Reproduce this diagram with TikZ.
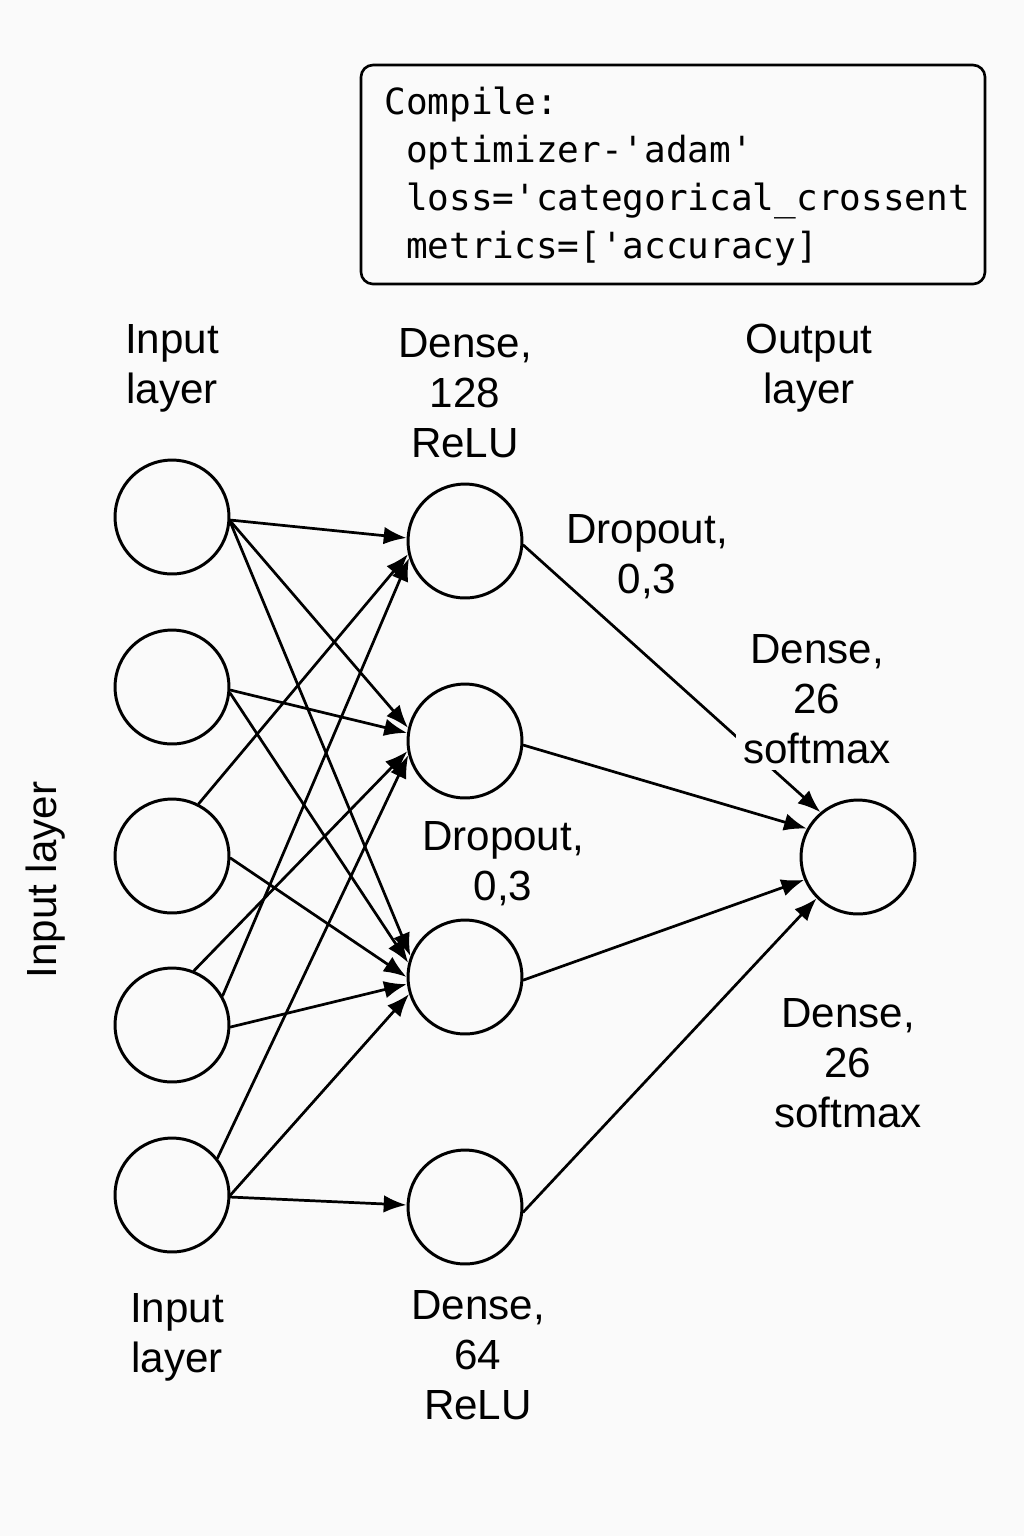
\documentclass[tikz,border=0pt]{standalone}
\usepackage{fontspec}
\setmainfont{Liberation Sans}
\newfontfamily\codefont{DejaVu Sans Mono}
\usetikzlibrary{arrows.meta}
\definecolor{bgcol}{RGB}{250,250,250}

\begin{document}
\begin{tikzpicture}[x=0.02cm,y=-0.02cm,line join=round,line cap=round,
  neuron/.style={draw,circle,line width=1.7pt,minimum size=2.28cm,inner sep=0pt},
  conn/.style={line width=1.55pt,-{Latex[length=13pt,width=10pt]}},
  lbl/.style={align=center,font=\fontsize{24}{28.3}\selectfont,inner sep=1pt}]
\fill[bgcol] (0,0) rectangle (1024,1536);
\useasboundingbox (0,0) rectangle (1024,1536);
% compile box
\draw[line width=1.5pt,rounded corners=0.24cm] (361,65) rectangle (985,284);
\node[anchor=north west,inner sep=0pt,align=left,font=\codefont\fontsize{20.5}{27.2}\selectfont] (compile) at (384,87)
  {Compile:\\\hphantom{C}optimizer-'adam'\\\hphantom{C}loss='categorical\_crossent\\\hphantom{C}metrics=['accuracy]};
% layers
\foreach \i/\y in {1/517,2/687,3/856,4/1025,5/1195}{\node[neuron] (in\i) at (172,\y) {};}
\foreach \i/\y in {1/541,2/741,3/977,4/1207}{\node[neuron] (hid\i) at (465,\y) {};}
\node[neuron] (out) at (858,857) {};
% connections (from anchor / to anchor)
\foreach \a/\s/\b/\e in {1/357/1/177,1/356/2/167,1/355/3/159,2/357/2/172,2/354/3/166,
  3/63/1/193,3/358/3/180,4/30/1/197,4/68/2/190,4/358/3/187,5/39/2/194,5/0/3/197,5/358/4/178}
  {\draw[conn] (in\a.\s) -- (hid\b.\e);}
\foreach \b/\s/\e in {1/356/130,2/356/151,3/357/203,4/355/225}{\draw[conn] (hid\b.\s) -- (out.\e);}
% labels
\node[lbl] (inlbl) at (172,368) {Input\\layer};
\node[lbl] (dense128) at (465,393) {Dense,\\128\\ReLU};
\node[lbl] (outlbl) at (809,368) {Output\\layer};
\node[lbl] (drop1) at (647,557) {Dropout,\\0,3};
\node[lbl,fill=bgcol,inner sep=4pt] (soft1) at (817,699) {Dense,\\26\\softmax};
\node[lbl] (drop2) at (503,864) {Dropout,\\0,3};
\node[lbl] (soft2) at (848,1063) {Dense,\\26\\softmax};
\node[lbl] (inlbl2) at (177,1337) {Input\\layer};
\node[lbl] (dense64) at (478,1355) {Dense,\\64\\ReLU};
\node[lbl,rotate=90] (inside) at (46,880) {Input layer};
\end{tikzpicture}
\end{document}
